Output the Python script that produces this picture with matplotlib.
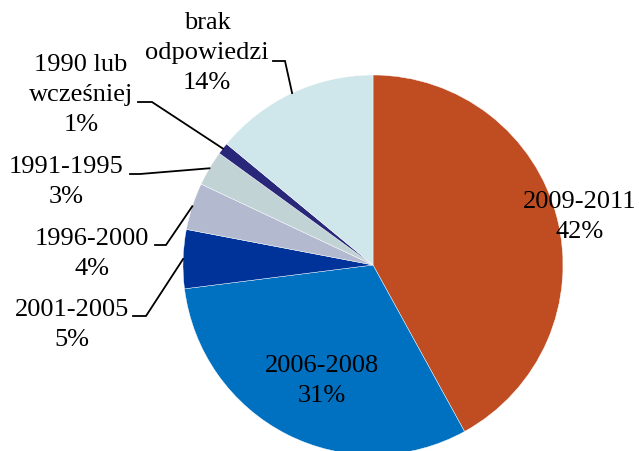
import numpy as np
import matplotlib.pyplot as plt

# data
labels = ["2009-2011", "2006-2008", "2001-2005", "1996-2000", "1991-1995",
          "1990 lub\nwcześniej", "brak\nodpowiedzi"]
shares = [42, 31, 5, 4, 3, 1, 14]
colors = ["#C04D22", "#0070C0", "#003399", "#B3BACF", "#C2D3D6", "#28277A", "#CFE7EB"]

# label block centres and leader-line knees, in pixels from top-left
label_px = [(580, 217), (322, 381), (72, 325), (92, 254), (66, 182), (81, 95), (207, 53)]
leader_px = [None, None,
             [(133, 316), (146, 316)],
             [(155, 245), (166, 245)],
             [(130, 174), (140, 174)],
             [(138, 102), (152, 102)],
             [(273, 61), (285, 61)]]

W, H = 639, 451
CX, CY, R = 373, 265, 190


def px(x, y):
    """pixel (top-left origin) -> data coords of the pie (unit radius)"""
    return (x - CX) / R, (CY - y) / R


plt.rcParams['font.family'] = ['Liberation Serif', 'DejaVu Serif']

fig = plt.figure(figsize=(W / 100, H / 100), dpi=100)
ax = fig.add_axes([0, 0, 1, 1])

wedges, _ = ax.pie(shares, colors=colors, startangle=90, counterclock=False,
                   radius=1, wedgeprops=dict(edgecolor="white", linewidth=0.3))

ax.set_xlim(px(0, 0)[0], px(W, 0)[0])
ax.set_ylim(px(0, H)[1], px(0, 0)[1])
ax.set_aspect('auto')
ax.axis('off')

for i, w in enumerate(wedges):
    pct = f"{shares[i]}%"
    tx, ty = px(*label_px[i])
    ax.text(tx, ty, f"{labels[i]}\n{pct}", ha='center', va='center',
            multialignment='center', fontsize=19, linespacing=1.45, color='black')
    if leader_px[i] is not None:
        mid = np.deg2rad((w.theta1 + w.theta2) / 2)
        pts = [px(*p) for p in leader_px[i]] + [(np.cos(mid), np.sin(mid))]
        xs, ys = zip(*pts)
        ax.plot(xs, ys, color='black', linewidth=1.3, solid_joinstyle='miter')

fig.savefig("out.png", dpi=100)
